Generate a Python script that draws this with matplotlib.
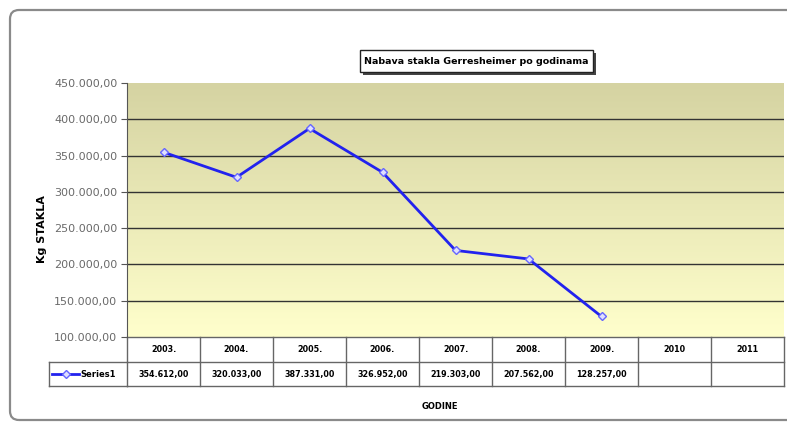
#!/usr/bin/env python3
"""Nabava stakla Gerresheimer po godinama - line chart with data table below."""

import matplotlib
matplotlib.use("Agg")
import matplotlib.pyplot as plt
import numpy as np
from matplotlib.colors import LinearSegmentedColormap
from matplotlib.patches import FancyBboxPatch, Rectangle
from matplotlib.lines import Line2D
from matplotlib.transforms import IdentityTransform

years = ["2003.", "2004.", "2005.", "2006.", "2007.", "2008.", "2009.", "2010", "2011"]
kg_stakla = [354612, 320033, 387331, 326952, 219303, 207562, 128257, None, None]
y_ticks = [100000, 150000, 200000, 250000, 300000, 350000, 400000, 450000]

W, H = 787, 423
FONT = ["DejaVu Sans Condensed", "Liberation Sans Narrow", "DejaVu Sans"]


def fmt_hr(v):
    s = f"{v:,.2f}"
    return s.replace(",", "X").replace(".", ",").replace("X", ".")


def px(x, y):
    """pixel (from top-left) -> figure fraction"""
    return x / W, 1 - y / H


fig = plt.figure(figsize=(W / 100, H / 100), dpi=100)

# outer rounded frame, drawn in pixel units
frame = FancyBboxPatch((10, H - 420), 800, 410,
                       boxstyle="round,pad=0,rounding_size=9",
                       transform=IdentityTransform(), fill=False,
                       edgecolor="#8a8a8a", linewidth=1.6)
fig.patches.append(frame)

left, top, right, bottom = 127, 83, 784, 337
ax = fig.add_axes([left / W, 1 - bottom / H, (right - left) / W, (bottom - top) / H])

# gradient background
cmap = LinearSegmentedColormap.from_list("bg", ["#ffffcc", "#d5d3a2"])
ax.imshow(np.linspace(0, 1, 256).reshape(-1, 1), cmap=cmap, aspect="auto",
          extent=[0, 1, 0, 1], transform=ax.transAxes, origin="lower", zorder=0)

n = len(years)
xs = np.arange(n)
ax.set_xlim(-0.5, n - 0.5)
ax.set_ylim(100000, 450000)
ax.set_yticks(y_ticks)
ax.set_yticklabels([fmt_hr(v) for v in y_ticks], color="#6a6a6a", fontsize=8)
ax.set_xticks([])
for v in y_ticks[1:-1]:
    ax.axhline(v, color="#333333", linewidth=1.0, zorder=1)
for s in ["top", "right", "bottom"]:
    ax.spines[s].set_visible(False)
ax.spines["left"].set_color("#555555")
ax.tick_params(axis="y", length=4, color="#555555", pad=3)

vals = np.array([np.nan if v is None else v for v in kg_stakla], dtype=float)
ax.plot(xs, vals, color="#2222ee", linewidth=2, marker="D", markersize=4,
        markerfacecolor="#e0e0ff", markeredgecolor="#6666ff", zorder=3)

ax.set_ylabel("Kg STAKLA", fontsize=8, fontweight="bold", family=FONT)
ax.yaxis.set_label_coords(-(127 - 47) / (right - left), 1 - (229 - top) / (bottom - top))

# data table below the plot
ph = bottom - top
r1 = -(362 - bottom) / ph
r2 = -(386 - bottom) / ph
leg_l = -(127 - 49) / (right - left)
tr = ax.transAxes
lc = "#666666"
edges = np.arange(n + 1) / n
for e in edges:
    ax.add_line(Line2D([e, e], [0, r2], transform=tr, color=lc, lw=1, clip_on=False))
for yy in (0, r1, r2):
    ax.add_line(Line2D([0, 1], [yy, yy], transform=tr, color=lc, lw=1, clip_on=False))
ax.add_line(Line2D([leg_l, 0], [r1, r1], transform=tr, color=lc, lw=1, clip_on=False))
ax.add_line(Line2D([leg_l, 0], [r2, r2], transform=tr, color=lc, lw=1, clip_on=False))
ax.add_line(Line2D([leg_l, leg_l], [r1, r2], transform=tr, color=lc, lw=1, clip_on=False))

for i, yr in enumerate(years):
    cx = (i + 0.5) / n
    ax.text(cx, r1 / 2, yr, transform=tr, ha="center", va="center",
            fontsize=5.8, fontweight="bold", family=FONT)
    if kg_stakla[i] is not None:
        ax.text(cx, (r1 + r2) / 2, fmt_hr(kg_stakla[i]), transform=tr, ha="center",
                va="center", fontsize=5.8, fontweight="bold", family=FONT)

# legend key in the table
ly = (r1 + r2) / 2
kx0 = -(127 - 52) / (right - left)
kx1 = -(127 - 79) / (right - left)
ax.add_line(Line2D([kx0, kx1], [ly, ly], transform=tr, color="#2222ee", lw=2, clip_on=False))
ax.add_line(Line2D([(kx0 + kx1) / 2], [ly], transform=tr, marker="D", markersize=4,
                   markerfacecolor="#e0e0ff", markeredgecolor="#6666ff", clip_on=False))
ax.text(-(127 - 80) / (right - left), ly, "Series1", transform=tr, ha="left", va="center",
        fontsize=6, fontweight="bold", family=FONT)

# x axis title
fig.text(*px(440, 406), "GODINE", ha="center", va="center", fontsize=6,
         fontweight="bold", family=FONT)

# title box with shadow
bx0, by0 = px(360, 72)
bw, bh = (593 - 360) / W, (72 - 50) / H
fig.patches.append(Rectangle((bx0 + 3 / W, by0 - 3 / H), bw, bh, transform=fig.transFigure,
                             facecolor="#444444", edgecolor="none"))
fig.patches.append(Rectangle((bx0, by0), bw, bh, transform=fig.transFigure,
                             facecolor="white", edgecolor="#222222", linewidth=1))
fig.text(*px(476, 61), "Nabava stakla Gerresheimer po godinama", ha="center",
         va="center", fontsize=6.8, fontweight="bold", family=FONT)

fig.savefig("out.png", dpi=100)
